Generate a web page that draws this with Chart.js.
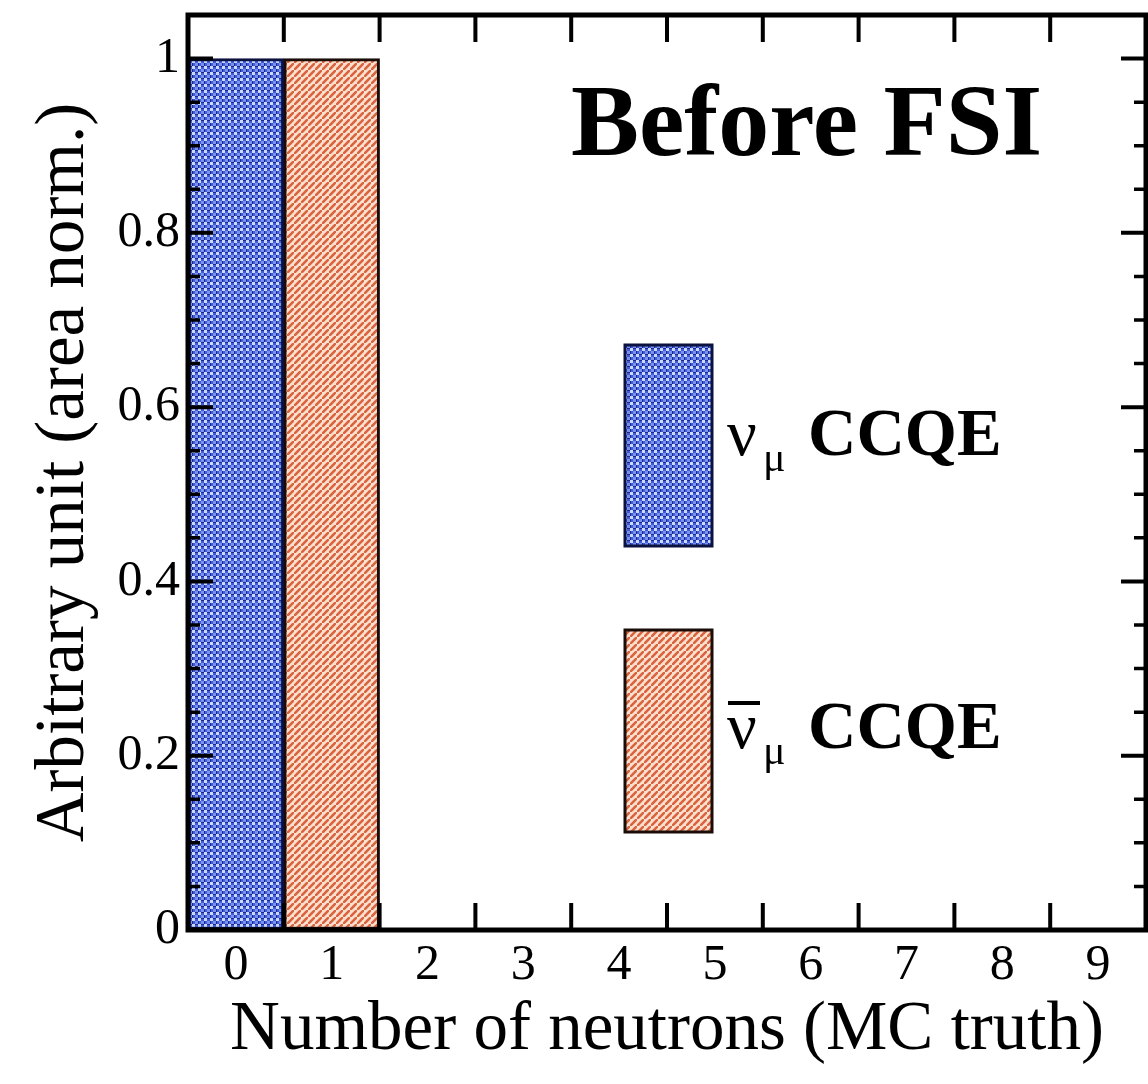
<!DOCTYPE html>
<html>
<head>
<meta charset="utf-8">
<script src="https://cdn.jsdelivr.net/npm/chart.js@4.4.1/dist/chart.umd.min.js"></script>
<style>
  html, body { margin: 0; padding: 0; background: #fff; }
  #wrap { width: 1148px; height: 1084px; position: relative; }
</style>
</head>
<body>
<div id="wrap"><canvas id="c"></canvas></div>
<script>
// ---- data ----
const categories = ['0', '1', '2', '3', '4', '5', '6', '7', '8', '9'];
const numuCCQE    = [1, 0, 0, 0, 0, 0, 0, 0, 0, 0];
const numubarCCQE = [0, 1, 0, 0, 0, 0, 0, 0, 0, 0];
const yTickValues = [0, 0.2, 0.4, 0.6, 0.8, 1];
const yTickLabels = ['0', '0.2', '0.4', '0.6', '0.8', '1'];
const titleText = 'Before FSI';
const xTitle = 'Number of neutrons (MC truth)';
const yTitle = 'Arbitrary unit (area norm.)';

const SERIF = '"Liberation Serif", "Times New Roman", serif';

// ---- patterns ----
function bluePattern() {
  const c = document.createElement('canvas');
  c.width = 6; c.height = 6;
  const g = c.getContext('2d');
  g.fillStyle = '#405bd8'; g.fillRect(0, 0, 6, 6);
  g.fillStyle = '#cbd9fe'; g.fillRect(0, 0, 3, 3);
  g.fillStyle = '#7a92ec'; g.fillRect(3, 3, 3, 3);
  g.fillStyle = '#1a2894'; g.fillRect(3, 0, 3, 1); g.fillRect(0, 3, 1, 3);
  return g.createPattern(c, 'repeat');
}
function orangePattern() {
  const s = 7;
  const c = document.createElement('canvas');
  c.width = s; c.height = s;
  const g = c.getContext('2d');
  g.fillStyle = '#fbe0cf'; g.fillRect(0, 0, s, s);
  g.strokeStyle = '#d9643f'; g.lineWidth = 2.6;
  g.beginPath();
  g.moveTo(-1, s + 1); g.lineTo(s + 1, -1);
  g.moveTo(-s - 1, 1); g.lineTo(1, -s - 1);
  g.moveTo(s - 1, 2 * s + 1); g.lineTo(2 * s + 1, s - 1);
  g.stroke();
  return g.createPattern(c, 'repeat');
}
const BLUE = bluePattern();
const ORANGE = orangePattern();

// ---- plugin: frame, inward ticks, title, legend ----
const decor = {
  id: 'decor',
  afterDatasetsDraw(chart) {
    const ctx = chart.ctx;
    const a = chart.chartArea;
    const xs = chart.scales.x, ys = chart.scales.y;
    ctx.save();
    ctx.strokeStyle = '#000';
    ctx.lineCap = 'butt';
    // x ticks at bin edges (top and bottom, inward)
    ctx.lineWidth = 4;
    const half = (xs.getPixelForValue(1) - xs.getPixelForValue(0)) / 2;
    for (let i = 0; i < categories.length - 1; i++) {
      const px = xs.getPixelForValue(i) + half;
      ctx.beginPath();
      ctx.moveTo(px, a.top); ctx.lineTo(px, a.top + 27);
      ctx.moveTo(px, a.bottom); ctx.lineTo(px, a.bottom - 27);
      ctx.stroke();
    }
    // y ticks: major at 0.2 steps, minor at 0.05
    for (let k = 0; k <= 21; k++) {
      const v = k * 0.05;
      if (v > ys.max + 1e-9) break;
      const py = ys.getPixelForValue(v);
      const major = (k % 4 === 0);
      const len = major ? 25 : 12;
      ctx.lineWidth = major ? 4 : 3.5;
      ctx.beginPath();
      ctx.moveTo(a.left, py); ctx.lineTo(a.left + len, py);
      ctx.moveTo(a.right, py); ctx.lineTo(a.right - len, py);
      ctx.stroke();
    }
    // frame
    ctx.lineWidth = 5;
    ctx.strokeRect(a.left, a.top, a.right - a.left, a.bottom - a.top);

    // title
    ctx.fillStyle = '#000';
    ctx.textBaseline = 'alphabetic';
    ctx.textAlign = 'left';
    ctx.font = 'bold 102px ' + SERIF;
    ctx.fillText(titleText, 571, 155);

    // legend
    const entries = [
      { fill: BLUE, border: '#0b1240', box: [625, 345, 87, 201], y: 455, bar: false },
      { fill: ORANGE, border: '#1a0d08', box: [625, 630, 87, 202], y: 748, bar: true }
    ];
    entries.forEach(e => {
      const [bx, by, bw, bh] = e.box;
      ctx.fillStyle = e.fill;
      ctx.fillRect(bx, by, bw, bh);
      ctx.lineWidth = 3;
      ctx.strokeStyle = e.border;
      ctx.strokeRect(bx, by, bw, bh);
      ctx.fillStyle = '#000';
      ctx.font = '66px ' + SERIF;
      ctx.fillText('\u03BD', 727, e.y);
      ctx.font = '42px ' + SERIF;
      ctx.fillText('\u03BC', 763, e.y + 16);
      ctx.font = 'bold 67px ' + SERIF;
      ctx.fillText('CCQE', 808, e.y);
      if (e.bar) {
        ctx.lineWidth = 4;
        ctx.strokeStyle = '#000';
        ctx.beginPath();
        ctx.moveTo(728, e.y - 45); ctx.lineTo(760, e.y - 45);
        ctx.stroke();
      }
    });
    ctx.restore();
  }
};

new Chart(document.getElementById('c'), {
  type: 'bar',
  data: {
    labels: categories,
    datasets: [
      { label: '\u03BD\u03BC CCQE', data: numuCCQE, backgroundColor: BLUE, borderColor: '#0b1240', borderWidth: 3 },
      { label: '\u03BD\u0304\u03BC CCQE', data: numubarCCQE, backgroundColor: ORANGE, borderColor: '#1a0d08', borderWidth: 3 }
    ]
  },
  options: {
    responsive: true,
    maintainAspectRatio: false,
    animation: false,
    devicePixelRatio: 1,
    layout: { padding: { top: 15, right: 2, left: 0, bottom: 0 } },
    datasets: { bar: { grouped: false, barPercentage: 1, categoryPercentage: 1, borderSkipped: false } },
    plugins: { legend: { display: false }, tooltip: { enabled: false }, title: { display: false } },
    scales: {
      x: {
        type: 'category',
        grid: { display: true, drawOnChartArea: false, drawTicks: false, color: 'rgba(0,0,0,0)' },
        border: { display: false },
        ticks: { color: '#000', font: { family: SERIF, size: 50 }, padding: 6, maxRotation: 0, autoSkip: false },
        title: { display: true, text: xTitle, color: '#000', font: { family: SERIF, size: 69 }, padding: { top: 0, bottom: 12 } },
        afterFit(s) { s.height = 154; s.paddingLeft = 0; s.paddingRight = 0; }
      },
      y: {
        min: 0, max: 1.05,
        afterBuildTicks(s) { s.ticks = yTickValues.map(v => ({ value: v })); },
        grid: { display: true, drawOnChartArea: false, drawTicks: false, color: 'rgba(0,0,0,0)' },
        border: { display: false },
        ticks: {
          color: '#000', font: { family: SERIF, size: 50 }, padding: 8,
          callback(v) { const i = yTickValues.indexOf(v); return i >= 0 ? yTickLabels[i] : ''; }
        },
        title: { display: true, text: yTitle, color: '#000', font: { family: SERIF, size: 69 }, padding: { top: 23, bottom: 0 } },
        afterFit(s) { s.width = 188; s.paddingTop = 0; s.paddingBottom = 0; }
      }
    }
  },
  plugins: [decor]
});
</script>
</body>
</html>
